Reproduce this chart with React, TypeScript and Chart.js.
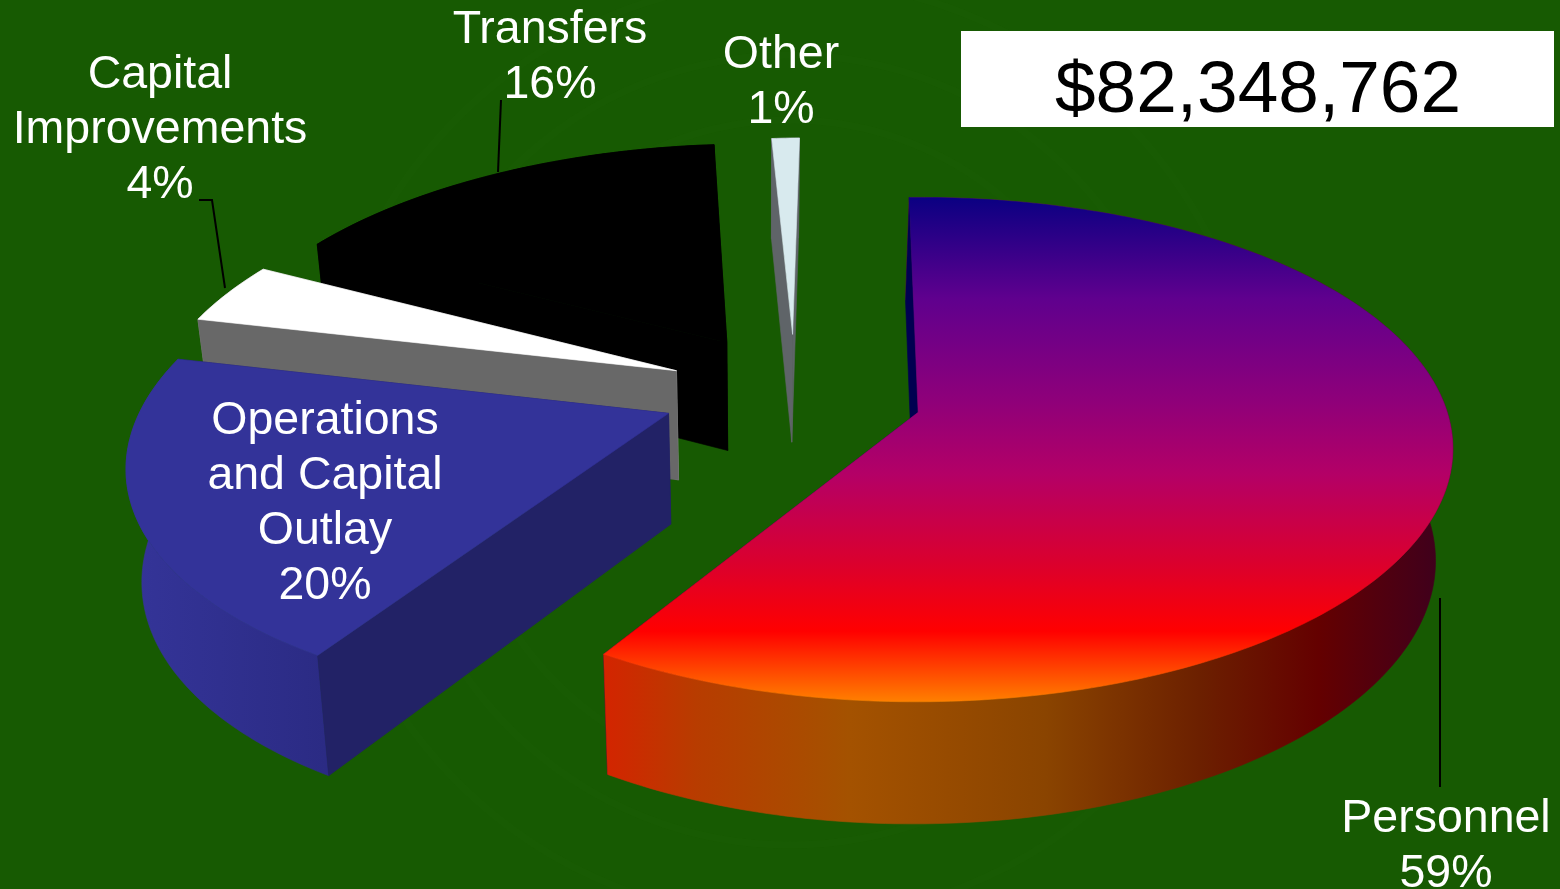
import React, { useEffect, useRef } from "react";
import { Chart, registerables } from "chart.js";

Chart.register(...registerables);

// Budget shares, clockwise from the top of the pie
const categories = ["Personnel", "Operations and Capital Outlay", "Capital Improvements", "Transfers", "Other"];
const shares = [59, 20, 4, 16, 1];
const totalLabel = "$82,348,762";

// How far each wedge is pulled out, and in which direction (degrees, clockwise from east)
const explodeDistance = [137, 128, 124, 127, 125];
const explodeBearing = [20.5, 157, 200, 237, 269];

// Wrapped label text per wedge
const labelLines = [
  ["Personnel"],
  ["Operations", "and Capital", "Outlay"],
  ["Capital", "Improvements"],
  ["Transfers"],
  ["Other"],
];
const labelAnchors = [
  { x: 1446, y: 832 },
  { x: 325, y: 434 },
  { x: 160, y: 88 },
  { x: 550, y: 43 },
  { x: 781, y: 68 },
];
const leaderLines = [
  [[1440, 598], [1440, 787]],
  [],
  [[199, 200], [212, 200], [225, 288]],
  [[501, 100], [498, 172]],
  [],
];

const paintOrder = [3, 4, 2, 1, 0];
const topFill = ["", "#333399", "#ffffff", "#000000", "#d8eaee"];
const startWallFill = ["#000050", "#222266", "#686868", "#000000", "#5f6468"];
const endWallFill = ["#000050", "#222266", "#b0b0b0", "#000000", "#5f6468"];

// View model: tilt, perspective and extrusion of the pie
const TILT = 0.46;
const PERSPECTIVE = 0.000279;
const VANISH_X = 930;
const DEPTH_VANISH_X = 760;
const PIE_RADIUS = 522;

function gradient(ctx: CanvasRenderingContext2D, x0: number, y0: number, x1: number, y1: number, stops: [number, string][]) {
  const g = ctx.createLinearGradient(x0, y0, x1, y1);
  stops.forEach(([o, c]) => g.addColorStop(o, c));
  return g;
}

const pie3d = {
  id: "pie3d",
  beforeDraw(chart: any) {
    const { ctx, width, height } = chart;
    ctx.save();
    ctx.fillStyle = "#175a02";
    ctx.fillRect(0, 0, width, height);
    // faint seal behind the pie
    ctx.strokeStyle = "rgba(40,110,20,0.09)";
    ctx.lineWidth = 7;
    for (const r of [470, 395, 330]) {
      ctx.beginPath();
      ctx.arc(790, 450, r, 0, Math.PI * 2);
      ctx.stroke();
    }
    ctx.restore();
  },
  beforeDatasetsDraw(chart: any) {
    const { ctx } = chart;
    const arcs = chart.getDatasetMeta(0).data;

    for (const i of paintOrder) {
      const a = arcs[i].getProps(["x", "y", "startAngle", "endAngle", "outerRadius"], true);
      const off = arcs[i].options.offset;
      const bearing = (explodeBearing[i] * Math.PI) / 180;
      const wx = off * Math.cos(bearing);
      const wy = off * Math.sin(bearing);

      // world point on the pie plane -> screen, top face
      const top = (X: number, Y: number) => {
        const w = 1 - PERSPECTIVE * Y;
        return [VANISH_X + (a.x + X - VANISH_X) / w, a.y + (TILT * Y) / w];
      };
      // the same point on the underside of the extruded pie
      const bottom = (p: number[]) => [
        p[0] + (DEPTH_VANISH_X - p[0]) * 0.025,
        p[1] + 108 + 0.039 * (p[1] - 340),
      ];

      const rim: number[][] = [];
      const steps = Math.max(6, Math.ceil((a.endAngle - a.startAngle) * 60));
      for (let s = 0; s <= steps; s++) {
        const t = a.startAngle + ((a.endAngle - a.startAngle) * s) / steps;
        rim.push(top(wx + a.outerRadius * Math.cos(t), wy + a.outerRadius * Math.sin(t)));
      }
      const apex = top(wx, wy);

      const poly = (pts: number[][], fill: any) => {
        ctx.beginPath();
        pts.forEach((p, k) => (k ? ctx.lineTo(p[0], p[1]) : ctx.moveTo(p[0], p[1])));
        ctx.closePath();
        ctx.fillStyle = fill;
        ctx.fill();
        // hairline in the same paint closes the seams between faces
        ctx.strokeStyle = fill;
        ctx.lineWidth = 0.6;
        ctx.stroke();
      };

      const first = rim[0];
      const last = rim[rim.length - 1];

      // the trailing cut face sits behind the outer wall
      poly([apex, last, bottom(last), bottom(apex)], endWallFill[i]);

      // outer wall
      let wallFill: any = "#000000";
      if (i === 0) {
        wallFill = gradient(ctx, 602, 0, 1455, 0, [
          [0, "#d42400"],
          [0.11, "#b83c00"],
          [0.29, "#a45200"],
          [0.52, "#8a4400"],
          [0.7, "#6c2000"],
          [0.84, "#640000"],
          [1, "#3a0020"],
        ]);
      } else if (i === 1) {
        wallFill = gradient(ctx, 135, 0, 325, 0, [[0, "#343498"], [1, "#2b2b84"]]);
      } else if (i === 2) {
        wallFill = "#8c8c8c";
      } else if (i === 4) {
        wallFill = "#5f6468";
      }
      poly([...rim, ...rim.map(bottom).reverse()], wallFill);

      // the leading cut face is in front of it
      poly([apex, first, bottom(first), bottom(apex)], startWallFill[i]);

      // top face
      const face =
        i === 0
          ? gradient(ctx, 0, 197, 0, 702, [
              [0, "#0a0082"],
              [0.2, "#5f008e"],
              [0.4, "#8e007a"],
              [0.55, "#b40066"],
              [0.73, "#dc002c"],
              [0.86, "#ff0000"],
              [0.93, "#ff4000"],
              [1, "#ff8000"],
            ])
          : topFill[i];
      poly([apex, ...rim], face);
    }
    return false;
  },
  afterDraw(chart: any) {
    const { ctx } = chart;
    ctx.save();

    // leader lines
    ctx.strokeStyle = "#000000";
    ctx.lineWidth = 2;
    leaderLines.forEach((pts) => {
      if (!pts.length) return;
      ctx.beginPath();
      pts.forEach((p, k) => (k ? ctx.lineTo(p[0], p[1]) : ctx.moveTo(p[0], p[1])));
      ctx.stroke();
    });

    // category labels
    ctx.fillStyle = "#ffffff";
    ctx.font = '46.5px "Liberation Sans"';
    ctx.textAlign = "center";
    ctx.textBaseline = "alphabetic";
    labelLines.forEach((lines, i) => {
      const all = [...lines, `${shares[i]}%`];
      all.forEach((t, k) => ctx.fillText(t, labelAnchors[i].x, labelAnchors[i].y + k * 55));
    });

    // total box
    ctx.fillStyle = "#ffffff";
    ctx.fillRect(961, 31, 593, 96);
    ctx.fillStyle = "#000000";
    ctx.font = '73px "Liberation Sans"';
    ctx.fillText(totalLabel, 1258, 112);
    ctx.restore();
  },
};

export default function App() {
  const ref = useRef<HTMLCanvasElement>(null);
  useEffect(() => {
    const chart = new Chart(ref.current!, {
      type: "pie",
      data: {
        labels: categories,
        datasets: [{ data: shares, offset: explodeDistance, borderWidth: 0 } as any],
      },
      options: {
        animation: false,
        responsive: false,
        rotation: -1.3,
        radius: PIE_RADIUS,
        layout: { padding: { left: 20, bottom: 109 } },
        plugins: { legend: { display: false }, tooltip: { enabled: false } },
      } as any,
      plugins: [pie3d],
    });
    return () => chart.destroy();
  }, []);
  return (
    <div style={{ position: "fixed", inset: 0, overflow: "hidden" }}>
      <canvas ref={ref} width={1560} height={889} style={{ display: "block" }} />
    </div>
  );
}
